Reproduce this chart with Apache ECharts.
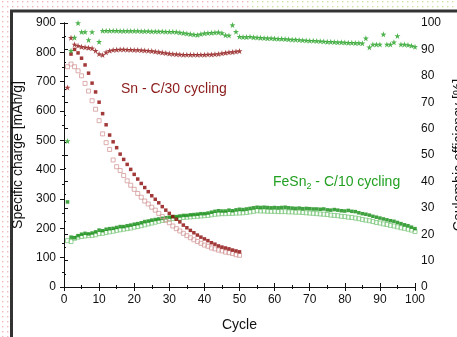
<!DOCTYPE html>
<html>
<head>
<meta charset="utf-8">
<script src="https://cdn.jsdelivr.net/npm/echarts@6/dist/echarts.min.js"></script>
<style>
  html, body { margin: 0; padding: 0; background: #fff; }
  #chart { width: 457px; height: 337px; }
</style>
</head>
<body>
<div id="chart"></div>
<script>
// cycle numbers
const snCycles = Array.from({ length: 50 }, (_, i) => i + 1);
const feCycles = Array.from({ length: 100 }, (_, i) => i + 1);

// Sn, C/30 - specific charge [mAh/g]
const snFilled = [null, 794, 810, 798, 780, 757, 729, 695, 665, 630,
  591, 553, 518, 495, 475, 453, 435, 418, 401, 384,
  368, 353, 339, 325, 311, 299, 287, 274, 262, 251,
  240, 231, 222, 211, 202, 193, 185, 177, 170, 164,
  158, 151, 146, 140, 136, 133, 130, 126, 123, 120];
const snOpen = [751, 760, 751, 737, 720, 694, 668, 635, 606, 567,
  522, 492, 469, 433, 410, 397, 380, 362, 347, 333,
  319, 306, 293, 283, 272, 262, 251, 240, 228, 219,
  208, 199, 191, 183, 175, 168, 161, 155, 149, 143,
  139, 133, 130, 126, 123, 119, 117, 114, 110, 108];
// Sn coulombic efficiency [%]
const snCE = [75.6, 94.4, 91.9, 91.4, 91.0, 90.8, 90.6, 90.4, 89.5, 88.3,
  87.9, 88.9, 89.5, 89.8, 89.9, 90.0, 90.0, 89.9, 89.9, 89.8,
  89.8, 89.7, 89.6, 89.5, 89.4, 89.2, 89.0, 88.8, 88.6, 88.4,
  88.3, 88.2, 88.1, 88.0, 88.0, 88.0, 88.0, 88.0, 88.0, 88.0,
  88.1, 88.1, 88.2, 88.3, 88.5, 88.7, 88.9, 89.0, 89.2, 89.4];

// FeSn2, C/10 - specific charge [mAh/g]
const feFilled = [290, 170, 168, 175, 180, 183, 181, 184, 188, 194,
  192, 197, 199, 200, 203, 206, 206, 209, 211, 214,
  216, 219, 223, 225, 228, 230, 232, 234, 236, 238,
  240, 240, 242, 244, 244, 246, 247, 248, 250, 250,
  252, 255, 258, 260, 259, 259, 262, 260, 263, 265,
  264, 266, 268, 270, 272, 271, 272, 271, 270, 271,
  270, 271, 272, 270, 269, 268, 269, 267, 268, 267,
  266, 266, 265, 266, 263, 262, 264, 262, 260, 259,
  261, 258, 257, 253, 250, 248, 245, 241, 238, 235,
  232, 229, 226, 224, 220, 216, 212, 209, 204, 199];
const feOpen = [158, 155, 166, 170, 172, 174, 175, 176, 178, 182,
  183, 186, 188, 190, 193, 195, 197, 199, 201, 204,
  206, 209, 212, 215, 218, 221, 224, 227, 229, 231,
  233, 234, 235, 237, 238, 239, 240, 241, 242, 243,
  244, 246, 248, 249, 250, 250, 251, 251, 252, 252,
  253, 254, 256, 258, 260, 259, 259, 258, 258, 258,
  257, 257, 257, 256, 256, 255, 255, 254, 253, 252,
  251, 250, 249, 248, 247, 245, 244, 243, 241, 240,
  238, 237, 235, 233, 230, 228, 226, 223, 220, 218,
  215, 213, 210, 208, 205, 202, 200, 197, 194, 189];
// FeSn2 coulombic efficiency [%]
const feCE = [55.3, 89.5, 94.5, 100, 96.6, 96.6, 93.6, 96.6, null, 92.9,
  97.1, 97.1, 97.1, 97.1, 97.1, 97.0, 97.0, 97.0, 97.0, 97.0,
  97.0, 96.9, 96.9, 96.9, 96.8, 96.8, 96.8, 96.8, 96.7, 96.7,
  96.7, 96.6, 96.4, 96.2, 96.0, 95.8, 95.6, 95.5, 95.8, 96.1,
  96.2, 96.3, 96.4, 96.5, 96.2, 95.4, 95.3, 99.2, 96.7, 94.8,
  94.7, 94.7, 94.8, 94.6, 94.5, 94.4, 94.3, 94.2, 94.2, 94.1,
  94.0, 94.0, 93.9, 93.8, 93.7, 93.7, 93.6, 93.5, 93.4, 93.3,
  93.3, 93.2, 93.1, 93.0, 92.9, 92.9, 92.8, 92.7, 92.7, 92.6,
  92.5, 92.5, 92.4, 92.4, 92.3, 94.2, 90.8, 91.9, 91.9, 91.9,
  95.7, 91.9, 91.9, 92.7, 95.1, 91.9, 91.9, 91.7, 91.4, 91.0];

const pairs = (xs, ys) => xs.map((x, i) => [x, ys[i]]).filter(p => p[1] != null);

const star = 'path://M0,-10L2.35,-3.24L9.51,-3.09L3.8,1.24L5.88,8.09L0,4L-5.88,8.09L-3.8,1.24L-9.51,-3.09L-2.35,-3.24Z';

// dotted paper background outside the frame
function dots(color) {
  const c = document.createElement('canvas');
  c.width = 5; c.height = 5;
  const g = c.getContext('2d');
  g.fillStyle = '#fff'; g.fillRect(0, 0, 5, 5);
  g.fillStyle = color; g.fillRect(2, 1, 1.4, 1.4);
  return c;
}

const chart = echarts.init(document.getElementById('chart'));
const font = 'Liberation Sans, Arial, sans-serif';

const option = {
  animation: false,
  backgroundColor: '#fff',
  textStyle: { fontFamily: font },
  grid: { left: 64, right: 42, top: 23, bottom: 50, containLabel: false, outerBoundsMode: 'none' },
  xAxis: [{
    type: 'value', min: 0, max: 100, interval: 10,
    name: 'Cycle', nameLocation: 'middle', nameGap: 31,
    nameTextStyle: { fontSize: 14, color: '#111' },
    axisLine: { lineStyle: { color: '#111', width: 1 } },
    axisTick: { inside: true, length: 4, lineStyle: { color: '#111' } },
    minorTick: { show: true, splitNumber: 2, length: 2, lineStyle: { color: '#111' } },
    axisLabel: { color: '#111', fontSize: 12, margin: 7 },
    splitLine: { show: false }
  }, {
    type: 'value', min: 0, max: 100, interval: 10, position: 'top',
    axisLine: { lineStyle: { color: '#111', width: 1 } },
    axisTick: { inside: true, length: 4, lineStyle: { color: '#111' } },
    minorTick: { show: true, splitNumber: 2, length: 2, lineStyle: { color: '#111' } },
    axisLabel: { show: false },
    splitLine: { show: false }
  }],
  yAxis: [{
    type: 'value', min: 0, max: 900, interval: 100,
    name: 'Specific charge [mAh/g]', nameLocation: 'middle', nameGap: 33, nameRotate: 90,
    nameTextStyle: { fontSize: 14, color: '#111' },
    axisLine: { show: true, lineStyle: { color: '#111', width: 1 } },
    axisTick: { show: true, length: 4, lineStyle: { color: '#111' } },
    minorTick: { show: true, splitNumber: 2, length: 2, lineStyle: { color: '#111' } },
    axisLabel: { color: '#111', fontSize: 12, margin: 8 },
    splitLine: { show: false }
  }, {
    type: 'value', min: 0, max: 100, interval: 10, position: 'right',
    name: 'Coulombic efficiency [%]', nameLocation: 'middle', nameGap: 33, nameRotate: 90,
    nameTextStyle: { fontSize: 14, color: '#111' },
    axisLine: { show: true, lineStyle: { color: '#111', width: 1 } },
    axisTick: { show: true, length: 4, lineStyle: { color: '#111' } },
    minorTick: { show: true, splitNumber: 2, length: 2, lineStyle: { color: '#111' } },
    axisLabel: { color: '#111', fontSize: 12, margin: 6 },
    splitLine: { show: false }
  }],
  series: [
    {
      name: 'FeSn2 open', type: 'scatter', symbol: 'rect', symbolSize: 4,
      itemStyle: { color: 'rgba(255,255,255,0)', borderColor: '#80c880', borderWidth: 1 },
      data: pairs(feCycles, feOpen)
    },
    {
      name: 'FeSn2 filled', type: 'scatter', symbol: 'rect', symbolSize: 3.5,
      itemStyle: { color: '#0f8a0f' },
      data: pairs(feCycles, feFilled)
    },
    {
      name: 'Sn open', type: 'scatter', symbol: 'rect', symbolSize: 4,
      itemStyle: { color: 'rgba(255,255,255,0)', borderColor: '#d49a9a', borderWidth: 1 },
      data: pairs(snCycles, snOpen)
    },
    {
      name: 'Sn filled', type: 'scatter', symbol: 'rect', symbolSize: 3.5,
      itemStyle: { color: '#8b0808' },
      data: pairs(snCycles, snFilled)
    },
    {
      name: 'Sn CE', type: 'scatter', yAxisIndex: 1, symbol: star, symbolSize: 6,
      itemStyle: { color: '#8e1414' },
      data: pairs(snCycles, snCE)
    },
    {
      name: 'FeSn2 CE', type: 'scatter', yAxisIndex: 1, symbol: star, symbolSize: 6,
      itemStyle: { color: '#24a024' },
      data: pairs(feCycles, feCE)
    }
  ],
  graphic: [
    { type: 'rect', shape: { x: 0, y: 0, width: 250, height: 10 }, style: { fill: { image: dots('#f0b8b8'), repeat: 'repeat' } }, silent: true },
    { type: 'rect', shape: { x: 250, y: 0, width: 207, height: 10 }, style: { fill: { image: dots('#cfe3a8'), repeat: 'repeat' } }, silent: true },
    { type: 'rect', shape: { x: 0, y: 0, width: 10, height: 337 }, style: { fill: { image: dots('#f0b8b8'), repeat: 'repeat' } }, silent: true },
    { type: 'line', shape: { x1: 10, y1: 11, x2: 457, y2: 11 }, style: { stroke: '#333', lineWidth: 3 } },
    { type: 'line', shape: { x1: 11.5, y1: 10, x2: 11.5, y2: 337 }, style: { stroke: '#333', lineWidth: 3 } },
    {
      type: 'text', left: 121, top: 82,
      style: { text: 'Sn - C/30 cycling', fill: '#8b1a1a', font: '14px ' + font }
    },
    {
      type: 'text', left: 273, top: 175,
      style: {
        text: '{a|FeSn}{b|2}{a| - C/10 cycling}',
        rich: {
          a: { fontSize: 14, fill: '#22a022', fontFamily: font },
          b: { fontSize: 9, fill: '#22a022', fontFamily: font, padding: [9, 0, 0, 0] }
        }
      }
    }
  ]
};

chart.setOption(option);
</script>
</body>
</html>
